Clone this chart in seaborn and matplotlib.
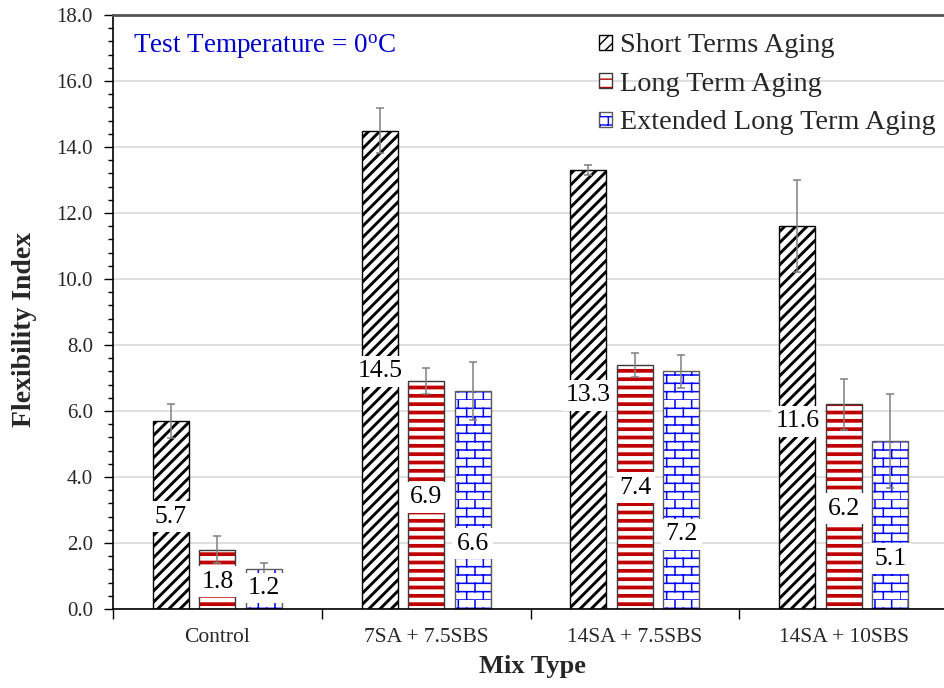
import warnings
warnings.filterwarnings("ignore")
import numpy as np
import pandas as pd
import matplotlib
matplotlib.use("Agg")
import matplotlib.pyplot as plt
import matplotlib.hatch as mhatch
import matplotlib.colors as mcolors
from matplotlib.path import Path
from matplotlib.ticker import MultipleLocator, FixedLocator
import seaborn as sns

# ---------------- data ----------------
mix_types = ["Control", "7SA + 7.5SBS", "14SA + 7.5SBS", "14SA + 10SBS"]
series_names = ["Short Terms Aging", "Long Term Aging", "Extended Long Term Aging"]
short_term = [5.7, 14.5, 13.3, 11.6]
long_term = [1.8, 6.9, 7.4, 6.2]
extended = [1.2, 6.6, 7.2, 5.1]
short_err = [0.52, 0.68, 0.15, 1.40]
long_err = [0.41, 0.39, 0.36, 0.77]
extended_err = [0.18, 0.88, 0.50, 1.43]
y_ticks = [0, 2, 4, 6, 8, 10, 12, 14, 16, 18]

# label placement as a fraction of bar height (layout only)
label_frac = [[0.49, 0.497, 0.487, 0.49],
              [0.46, 0.49, 0.497, 0.49],
              [0.53, 0.30, 0.315, 0.30]]


# ---------------- custom brick hatch ----------------
class BrickHatch(mhatch.HatchPatternBase):
    def __init__(self, hatch, density):
        n = hatch.count('b')
        self.rows = 12
        self.cols = 6
        self.num_vertices = (self.rows * 2 + self.rows * self.cols * 2) if n else 0

    def set_vertices_and_codes(self, vertices, codes):
        v = []
        for r in range(self.rows):
            y0 = r / self.rows
            y1 = (r + 1) / self.rows
            v += [(0.0, y0), (1.0, y0)]
            off = 0.5 / self.cols if r % 2 else 0.0
            for c in range(self.cols):
                x = c / self.cols + off
                v += [(x, y0), (x, y1)]
        vertices[:] = np.array(v)
        codes[0::2] = Path.MOVETO
        codes[1::2] = Path.LINETO


mhatch._hatch_types.append(BrickHatch)

# ---------------- figure ----------------
sns.set_theme(style="white")
plt.rcParams['font.family'] = ['Liberation Serif', 'DejaVu Serif']
plt.rcParams['mathtext.fontset'] = 'custom'
plt.rcParams['mathtext.rm'] = 'Liberation Serif'
plt.rcParams['mathtext.it'] = 'Liberation Serif:italic'

df = pd.DataFrame({
    "Mix Type": mix_types * 3,
    "Aging": sum([[s] * 4 for s in series_names], []),
    "value": short_term + long_term + extended,
})

fig = plt.figure(figsize=(9.44, 6.88), dpi=100)
ax = fig.add_axes([0.1197, 0.1148, 0.8803, 0.8634])

sns.barplot(data=df, x="Mix Type", y="value", hue="Aging",
            order=mix_types, hue_order=series_names,
            palette=["white"] * 3, width=0.668, gap=0.226,
            errorbar=None, legend=False, ax=ax, zorder=2)

bar_containers = list(ax.containers)

styles = [
    dict(edge="black", hcolor="black", hatch="///", hlw=2.1),
    dict(edge="#3a3a3a", hcolor="#C00000", hatch="--", hlw=2.7),
    dict(edge="#5a5a5a", hcolor="#0000FF", hatch="b", hlw=1.1),
]
values = [short_term, long_term, extended]
errs = [short_err, long_err, extended_err]

for i, cont in enumerate(bar_containers):
    st = styles[i]
    for p in cont.patches:
        p.set_facecolor("white")
        p.set_edgecolor(st["edge"])
        p.set_hatch(st["hatch"])
        p.set_linewidth(1.0)
        p._hatch_color = mcolors.to_rgba(st["hcolor"])
        try:
            p.set_hatch_linewidth(st["hlw"])
        except Exception:
            pass
    xs = [p.get_x() + p.get_width() / 2 for p in cont.patches]
    ax.errorbar(xs, values[i], yerr=errs[i], fmt="none", ecolor="#808080",
                elinewidth=1.1, capsize=2.6, capthick=1.1, zorder=3)
    for j, x in enumerate(xs):
        ax.text(x, values[i][j] * label_frac[i][j], f"{values[i][j]:.1f}",
                ha="center", va="center", fontsize=18.5, color="black",
                zorder=5,
                bbox=dict(boxstyle="square,pad=0.17", facecolor="white",
                          edgecolor="none"))

# legend
handles = [c.patches[0] for c in bar_containers]
leg = ax.legend(handles, series_names, loc="upper right",
                bbox_to_anchor=(1.012, 1.0), frameon=False, fontsize=20.3,
                handlelength=0.45, handleheight=0.45, handletextpad=0.3,
                labelspacing=0.48, borderaxespad=0.25)

# axes styling
ax.set_ylim(0, 18)
ax.set_xlim(-0.5, 3.48)
ax.set_yticks(y_ticks)
ax.set_yticklabels([f"{t:.1f}" for t in y_ticks], fontsize=15)
ax.yaxis.set_minor_locator(MultipleLocator(0.4))
ax.tick_params(axis="y", which="major", direction="out", length=6.5, width=1,
               color="black", left=True, pad=8)
ax.tick_params(axis="y", which="minor", direction="out", length=3.5, width=1,
               color="black", left=True)
ax.set_xticks(np.arange(len(mix_types)))
ax.set_xticklabels(mix_types, fontsize=15.5)
ax.xaxis.set_minor_locator(FixedLocator([-0.5, 0.5, 1.5, 2.5]))
ax.tick_params(axis="x", which="major", length=0, pad=14)
ax.tick_params(axis="x", which="minor", direction="out", length=7, width=1,
               color="black", bottom=True)
ax.yaxis.grid(True, color="#d9d9d9", linewidth=1.2, zorder=0)
ax.set_axisbelow(True)

for side in ["left", "bottom"]:
    ax.spines[side].set_color("black")
    ax.spines[side].set_linewidth(1.2)
ax.spines["top"].set_color("#555555")
ax.spines["top"].set_linewidth(2)
ax.spines["right"].set_visible(False)

ax.set_ylabel("Flexibility Index", fontsize=20, fontweight="bold")
ax.yaxis.set_label_coords(-0.092, 0.47)
ax.set_xlabel("Mix Type", fontsize=19, fontweight="bold")
ax.xaxis.set_label_coords(0.505, -0.077)

ax.text(0.024, 0.946, r"Test Temperature = 0$^{\mathrm{o}}$C",
        transform=ax.transAxes, color="#0000CC", fontsize=19.5,
        ha="left", va="center")

fig.savefig("out.png", dpi=100)
